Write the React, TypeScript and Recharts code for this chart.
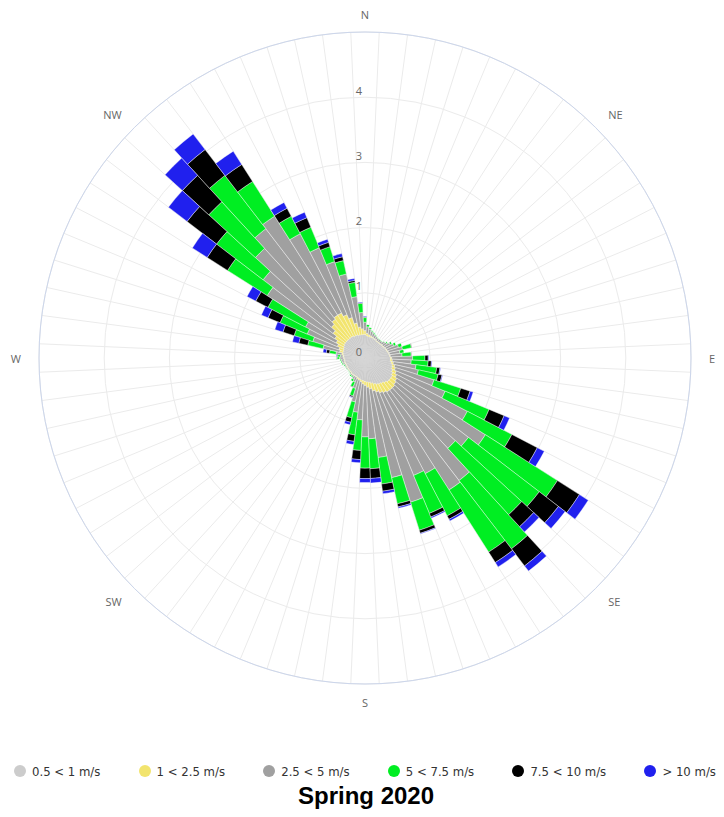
import React from 'react'
import {
    RadialBarChart,
    RadialBar,
    PolarGrid,
    PolarAngleAxis,
    PolarRadiusAxis
} from 'recharts'

// wind direction (degrees from north, clockwise)
const directions = [
    0, 5, 10, 15, 20, 25, 30, 35, 40, 45, 50, 55,
    60, 65, 70, 75, 80, 85, 90, 95, 100, 105, 110, 115,
    120, 125, 130, 135, 140, 145, 150, 155, 160, 165, 170, 175,
    180, 185, 190, 195, 200, 205, 210, 215, 220, 225, 230, 235,
    240, 245, 250, 255, 260, 265, 270, 275, 280, 285, 290, 295,
    300, 305, 310, 315, 320, 325, 330, 335, 340, 345, 350, 355
]

const compassLabels = ['N', 'NE', 'E', 'SE', 'S', 'SW', 'W', 'NW']

const speedBins = ['0.5 < 1 m/s', '1 < 2.5 m/s', '2.5 < 5 m/s', '5 < 7.5 m/s', '7.5 < 10 m/s', '> 10 m/s']

// frequency (%) per direction for each speed bin
const calm = [
    .36, .34, .33, .33, .33, .32, .32, .31, .31, .31, .32, .32,
    .33, .34, .35, .36, .37, .38, .39, .39, .41, .43, .44, .46,
    .48, .50, .50, .50, .48, .46, .45, .44, .42, .40, .38, .37,
    .36, .35, .34, .33, .32, .31, .31, .31, .31, .30, .30, .30,
    .30, .30, .30, .31, .31, .31, .32, .33, .34, .35, .35, .36,
    .37, .38, .38, .38, .38, .38, .38, .37, .37, .36, .36, .36
]
const light = [
    .06, .04, .03, .02, .01, .01, .01, .01, .01, .01, .01, .01,
    .01, .01, .01, .01, .01, .01, .02, .03, .03, .04, .05, .06,
    .07, .08, .10, .12, .14, .16, .15, .14, .13, .12, .10, .08,
    .06, .05, .03, .02, .02, .01, .01, .01, .01, .01, .01, .01,
    .01, .01, .01, .01, .01, .01, .01, .01, .02, .05, .07, .10,
    .13, .17, .24, .32, .37, .40, .40, .35, .28, .19, .12, .09
]
const moderate = [
    .13, .10, .09, .07, .06, .05, .04, .04, .04, .04, .05, .07,
    .10, .13, .18, .22, .16, .18, .32, .29, .35, .37, .62, .81,
    1.22, 1.61, 1.40, 1.26, 1.75, 1.78, 1.40, 1.37, 1.77, 1.36, 1.06, .79,
    .79, .55, .47, .34, .15, .08, .05, .02, .02, .02, .01, .01,
    .02, .02, .02, .03, .04, .05, .06, .04, .09, .26, .42, .50,
    .53, 1.23, 1.35, 1.58, 1.75, 1.80, 1.37, 1.11, .90, .77, .47, .25
]
const fresh = [
    .07, .04, .03, .02, .02, .02, .01, .01, .01, .01, .01, .02,
    .03, .04, .06, .14, .07, .14, .19, .26, .32, .31, .43, .73,
    .77, 1.31, 1.37, 1.38, 1.32, 1.13, .73, .63, .45, .41, .41, .46,
    .48, .47, .35, .25, .12, .08, .04, .02, .02, .01, .01, .01,
    .01, .01, .02, .02, .02, .02, .04, .04, .10, .24, .30, .45,
    .65, .72, .90, .97, 1.03, .63, .30, .34, .24, .21, .22, .14
]
const strong = [
    .01, 0, 0, 0, 0, 0, 0, 0, 0, 0, 0, 0,
    0, 0, 0, .01, 0, .01, .05, .05, .05, .06, .15, .25,
    .44, .40, .37, .25, .33, .19, .06, .06, .05, .05, .11, .15,
    .16, .14, .10, .07, .02, .01, 0, 0, 0, 0, 0, 0,
    0, 0, 0, 0, 0, 0, .01, .01, .05, .14, .18, .20,
    .21, .37, .57, .55, .50, .31, .14, .16, .07, .06, .03, .01
]
const gale = [
    .01, 0, 0, 0, 0, 0, 0, 0, 0, 0, 0, 0,
    0, 0, 0, 0, 0, 0, .01, .01, .01, .01, .05, .09,
    .12, .16, .13, .11, .10, .08, .03, .02, .01, .02, .04, .07,
    .06, .05, .05, .04, .01, 0, 0, 0, 0, 0, 0, 0,
    0, 0, 0, 0, 0, 0, 0, .01, .05, .10, .13, .11,
    .15, .27, .36, .36, .30, .24, .10, .09, .05, .05, .03, .01
]

const binKeys = ['calm', 'light', 'moderate', 'fresh', 'strong', 'gale']
const binColors = ['#cccccc', '#f2e46e', '#a0a0a0', '#00ee22', '#000000', '#2020ee']
const binStrokes = [0, 0.3, 0.4, 0.4, 0.4, 0.4]

const data = directions.map((dir, i) => ({
    dir,
    calm: calm[i],
    light: light[i],
    moderate: moderate[i],
    fresh: fresh[i],
    strong: strong[i],
    gale: gale[i]
}))

const CX = 357
const CY = 350
const OUTER = 326

const DirTick = (props: any) => {
    const value = Number(props.payload.value)
    if (value % 45 !== 0) return <g />
    const label = compassLabels[value / 45]
    const rad = (value * Math.PI) / 180
    const r = OUTER + 18
    const s = Math.sin(rad)
    const x = CX + r * s
    const y = CY - r * Math.cos(rad)
    const anchor = s > 0.1 ? 'start' : s < -0.1 ? 'end' : 'middle'
    return (
        <text x={x} y={y} textAnchor={anchor} dominantBaseline="central"
            fill="#666666" fontSize={11} fontFamily="'Open Sans', sans-serif">
            {label}
        </text>
    )
}

const RadiusTick = (props: any) => {
    const { x, y, payload } = props
    if (payload.value >= 5) return <g />
    return (
        <text x={x - 3} y={y - 7} textAnchor="end" dominantBaseline="central"
            fill="#666666" fontSize={11} fontFamily="'Open Sans', sans-serif">
            {payload.value}
        </text>
    )
}

const App = () => {
    return (
        <div style={{ position: 'relative', width: 708, height: 809 }}>
            <RadialBarChart
                width={708}
                height={740}
                cx={CX}
                cy={CY}
                innerRadius={0}
                outerRadius={OUTER}
                startAngle={87.5}
                endAngle={-272.5}
                layout="centric"
                barCategoryGap={0}
                barGap={0}
                data={data}
            >
                <PolarGrid gridType="circle" stroke="#ebebeb" />
                {binKeys.map((k, i) => (
                    <RadialBar
                        key={k}
                        dataKey={k}
                        stackId="wind"
                        fill={binColors[i]}
                        stroke={binStrokes[i] ? '#ffffff' : 'none'}
                        strokeWidth={binStrokes[i]}
                        isAnimationActive={false}
                    />
                ))}
                <PolarAngleAxis
                    dataKey="dir"
                    type="category"
                    axisLineType="circle"
                    axisLine={{ stroke: '#ccd6eb' }}
                    tickLine={false}
                    tick={DirTick}
                />
                <PolarRadiusAxis
                    angle={90}
                    type="number"
                    domain={[0, 5]}
                    tickCount={6}
                    axisLine={false}
                    tickLine={false}
                    tick={RadiusTick}
                />
            </RadialBarChart>
            <div style={{
                position: 'absolute', left: 6, top: 755, width: 702, height: 16,
                display: 'flex', justifyContent: 'space-between', alignItems: 'center',
                fontFamily: "'DejaVu Sans', sans-serif", fontStretch: 'condensed',
                fontSize: 13, color: '#333333'
            }}>
                {speedBins.map((name, i) => (
                    <div key={name} style={{ display: 'flex', alignItems: 'center' }}>
                        <span style={{
                            display: 'inline-block', width: 12, height: 12, borderRadius: 6,
                            background: binColors[i], marginRight: 6
                        }} />
                        <span>{name}</span>
                    </div>
                ))}
            </div>
            <div style={{
                position: 'absolute', left: 0, top: 774, width: 716, textAlign: 'center',
                fontFamily: "'Liberation Sans', Arial, sans-serif", fontWeight: 'bold',
                fontSize: 24, color: '#000000'
            }}>
                Spring 2020
            </div>
        </div>
    )
}

export default App
